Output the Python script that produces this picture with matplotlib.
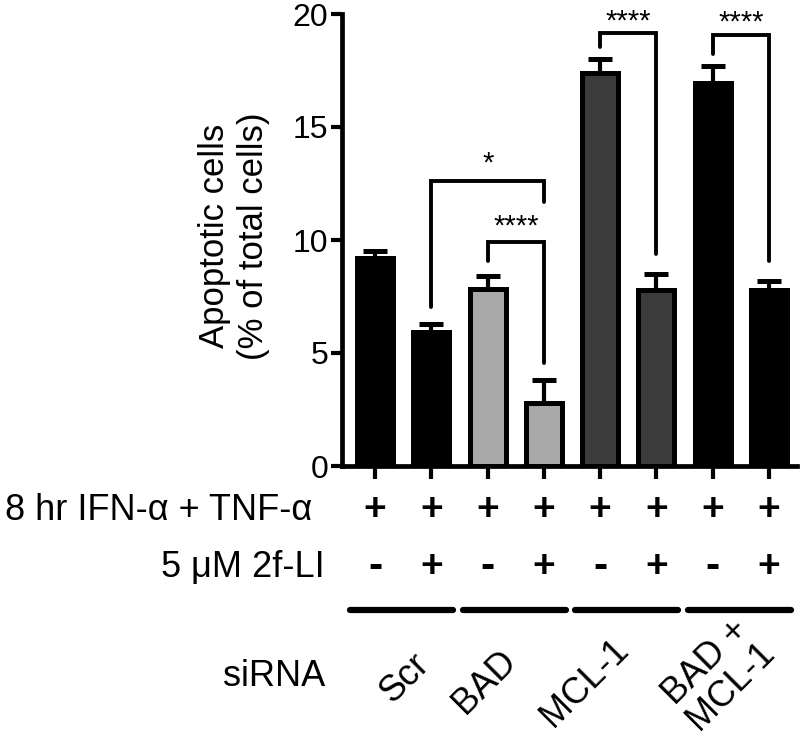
import numpy as np
import matplotlib
matplotlib.use("Agg")
import matplotlib.pyplot as plt
from matplotlib.transforms import blended_transform_factory

plt.rcParams['font.family'] = ['Liberation Sans', 'DejaVu Sans']

# ---- data ----
means = [9.2, 5.95, 7.85, 2.8, 17.4, 7.8, 16.95, 7.8]
errs = [0.3, 0.35, 0.55, 1.0, 0.6, 0.7, 0.75, 0.4]
bar_colors = ['#000000', '#000000', '#a8a8a8', '#a8a8a8',
              '#3b3b3b', '#3b3b3b', '#000000', '#000000']
ifn_row = ['+', '+', '+', '+', '+', '+', '+', '+']
li_row = ['-', '+', '-', '+', '-', '+', '-', '+']
groups = ['Scr', 'BAD', 'MCL-1', 'BAD +\nMCL-1']
group_bars = [(0, 1), (2, 3), (4, 5), (6, 7)]

# significance brackets: (left bar, right bar, top, left leg bottom, right leg bottom, label)
brackets = [
    (1, 3, 12.6, 7.05, 11.7, '*'),
    (2, 3, 9.9, 9.05, 4.55, '****'),
    (4, 5, 19.15, 18.55, 9.4, '****'),
    (6, 7, 19.05, 18.25, 9.05, '****'),
]
star_gap = [0.8, 0.7, 0.5, 0.55]

W, H = 800, 741
LAB = 26
fig = plt.figure(figsize=(W / 100, H / 100), dpi=100)
ax = fig.add_axes([342 / W, 1 - 466 / H, (797 - 342) / W, (466 - 14) / H])

x = np.arange(len(means))
ax.bar(x, means, width=0.64, color=bar_colors, edgecolor='black', linewidth=3.6, zorder=2)
ax.errorbar(x, means, yerr=[np.zeros(len(errs)), errs], fmt='none', ecolor='black',
            elinewidth=3, capsize=8.5, capthick=3.6, zorder=1)

for (i, j, top, lb, rb, lab), gap in zip(brackets, star_gap):
    ax.plot([x[i], x[i], x[j], x[j]], [lb, top, top, rb], color='black',
            lw=2.8, solid_capstyle='round', solid_joinstyle='miter', clip_on=False)
    ax.text((x[i] + x[j]) / 2, top + gap, lab, ha='center', va='center', fontsize=21)

ax.set_xlim(-0.59, 7.5)
ax.set_ylim(0, 20)
ax.set_yticks([0, 5, 10, 15, 20])
ax.set_xticks(x)
ax.set_xticklabels([])
for s in ['top', 'right']:
    ax.spines[s].set_visible(False)
for s in ['left', 'bottom']:
    ax.spines[s].set_linewidth(3.4)
ax.tick_params(axis='y', length=8, width=3, pad=2, labelsize=23)
ax.tick_params(axis='x', length=9, width=3)

fig.text(234 / W, 1 - 236 / H, 'Apoptotic cells\n(% of total cells)', rotation=90,
         ha='center', va='center', fontsize=25, linespacing=1.2)

# treatment table below the axis
tr = blended_transform_factory(ax.transData, fig.transFigure)
for xi, a, b in zip(x, ifn_row, li_row):
    ax.text(xi, 1 - 510 / H, a, transform=tr, ha='center', va='center',
            fontsize=28, fontweight='bold', clip_on=False)
    ax.text(xi, 1 - 567 / H, b, transform=tr, ha='center', va='center',
            fontsize=28 if b == '+' else 31, fontweight='bold', clip_on=False)

fig.text(312 / W, 1 - 510 / H, '8 hr IFN-\u03b1 + TNF-\u03b1', ha='right', va='center', fontsize=LAB)
fig.text(325 / W, 1 - 567 / H, '5 \u03bcM 2f-LI', ha='right', va='center', fontsize=LAB)
fig.text(325 / W, 1 - 676 / H, 'siRNA', ha='right', va='center', fontsize=LAB)

label_px = [(405, 678), (485, 682), (585, 683), (718, 674)]
for (i, j), name, (px, py) in zip(group_bars, groups, label_px):
    ax.plot([x[i] - 0.44, x[j] + 0.39], [1 - 610 / H] * 2, transform=tr, color='black',
            lw=4.5, solid_capstyle='round', clip_on=False)
    fig.text(px / W, 1 - py / H, name, rotation=45, rotation_mode='anchor',
             ha='center', va='center', fontsize=LAB, multialignment='center', linespacing=1.0)

fig.savefig('out.png', dpi=100)
